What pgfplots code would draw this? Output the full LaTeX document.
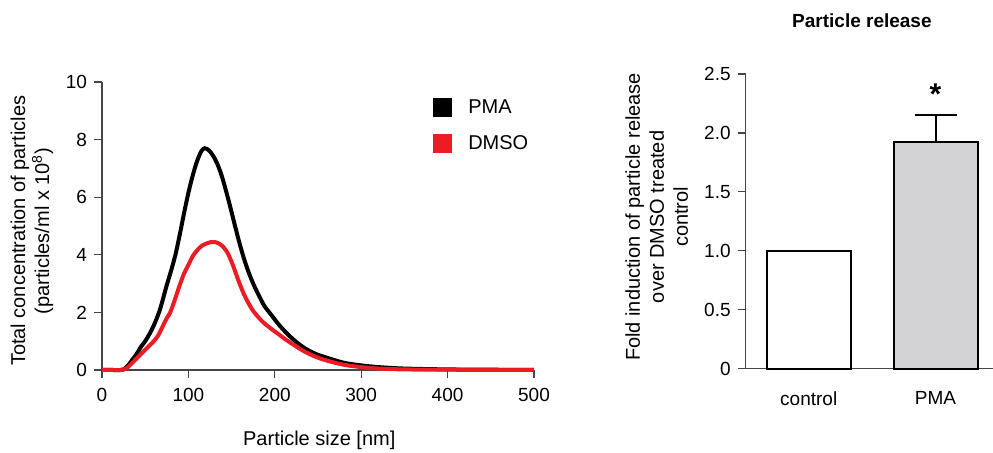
\documentclass[border=0pt]{standalone}
\usepackage{fontspec}
\setmainfont{Liberation Sans}
\usepackage{pgfplots}
\pgfplotsset{compat=1.18}

\definecolor{dmsored}{RGB}{237,28,36}
\definecolor{axgray}{RGB}{70,70,70}
\definecolor{barfill}{RGB}{211,211,213}

\pgfplotsset{
  panel/.style={
    scale only axis,
    axis lines*=left,
    axis line style={axgray, line width=0.6pt},
    tick style={axgray, line width=0.6pt},
    tick align=outside,
    major tick length=4pt,
    /pgf/number format/assume math mode=true,
    tick label style={font=\fontsize{9.5}{11}\selectfont},
    xticklabel style={yshift=-1.5pt},
    label style={font=\fontsize{10}{12}\selectfont, align=center},
  }
}

\begin{document}
\begin{tikzpicture}
\path[use as bounding box] (0pt,0pt) rectangle (496.5pt,226.5pt);

% size distribution
\begin{axis}[
  panel,
  at={(51pt,41.5pt)}, anchor=south west,
  width=216pt, height=144pt,
  xmin=0, xmax=500, ymin=0, ymax=10,
  xtick={0,100,...,500}, ytick={0,2,...,10},
  clip=false,
  xlabel={Particle size [nm]},
  xlabel style={at={(axis description cs:0.503,-0.243)}, anchor=center},
  ylabel={Total concentration of particles\\(particles/ml x 10\textsuperscript{8})},
  ylabel style={at={(axis description cs:-0.162,0.483)}, anchor=center},
  legend style={draw=none, fill=none, inner sep=0pt, at={(axis description cs:0.766,0.955)},
    anchor=north west, font=\fontsize{10}{12}\selectfont, row sep=5.5pt, column sep=6pt},
  legend cell align=left,
  legend image code/.code={\fill[#1] (0pt,-3.8pt) rectangle (7.5pt,3.8pt);},
]
\addplot[black, line width=2pt, smooth, tension=0.5] coordinates {
  (0,0) (10,0) (22,0) (25,0.02) (30,0.15) (35,0.35) (40,0.55) (45,0.8) (50,1.0)
  (55,1.25) (60,1.55) (66,2.0) (70,2.4) (75,2.95) (80,3.45) (85,4.0) (90,4.7)
  (95,5.45) (100,6.15) (105,6.75) (110,7.25) (115,7.6) (119,7.7) (124,7.62)
  (129,7.42) (134,7.12) (139,6.7) (144,6.17) (149,5.6) (154,5.0) (159,4.42)
  (164,3.9) (169,3.45) (175,3.0) (181,2.62) (188,2.22) (195,1.95) (204,1.6)
  (213,1.3) (223,1.02) (235,0.75) (248,0.55) (261,0.42) (280,0.25) (300,0.16)
  (320,0.1) (350,0.05) (400,0.02) (450,0.01) (500,0)
};
\addlegendentry{PMA}
\addplot[dmsored, line width=2pt, smooth, tension=0.5] coordinates {
  (0,0) (10,0) (22,0) (25,0.02) (30,0.1) (40,0.4) (50,0.7) (55,0.85) (60,1.0)
  (65,1.2) (70,1.5) (75,1.8) (79,2.0) (85,2.5) (90,2.95) (95,3.35) (100,3.65)
  (105,3.95) (110,4.15) (115,4.3) (120,4.38) (126,4.44) (131,4.44) (136,4.38)
  (141,4.25) (146,4.03) (152,3.6) (158,3.1) (164,2.65) (169,2.35) (175,2.05)
  (185,1.7) (195,1.45) (204,1.25) (213,1.05) (223,0.85) (235,0.63) (248,0.45)
  (261,0.32) (280,0.18) (300,0.1) (320,0.05) (350,0.02) (400,0.01) (500,0)
};
\addlegendentry{DMSO}
\end{axis}

% particle release
\begin{axis}[
  panel,
  at={(372.85pt,42.15pt)}, anchor=south west,
  width=123.65pt, height=147.35pt,
  xmin=-0.497, xmax=1.453, ymin=0, ymax=2.5,
  xtick={0,1}, xticklabels={control,PMA},
  x tick style={draw=none},
  xticklabel style={yshift=-2.5pt},
  ytick={0,0.5,1.0,1.5,2.0,2.5}, yticklabels={0,0.5,1.0,1.5,2.0,2.5},
  ybar, bar width=0.663, bar shift=0pt,
  clip=false,
  title={Particle release},
  title style={at={(axis description cs:0.47,1.14)}, anchor=center,
    font=\fontsize{9.5}{11}\selectfont\bfseries},
  ylabel={Fold induction of particle release\\over DMSO treated\\control},
  ylabel style={at={(axis description cs:-0.36,0.515)}, anchor=center},
]
\addplot[draw=black, fill=white, line width=1pt] coordinates {(0,1)};
\addplot[draw=black, fill=barfill, line width=1pt,
  error bars/.cd, y dir=plus, y explicit,
  error bar style={black, line width=1pt},
  error mark options={black, line width=1pt, mark size=10.5pt, rotate=90}]
  coordinates {(1,1.926) +- (0,0.224)};
\node[font=\fontsize{15}{15}\selectfont\bfseries] at (axis cs:1,2.33) {*};
\end{axis}
\end{tikzpicture}
\end{document}
